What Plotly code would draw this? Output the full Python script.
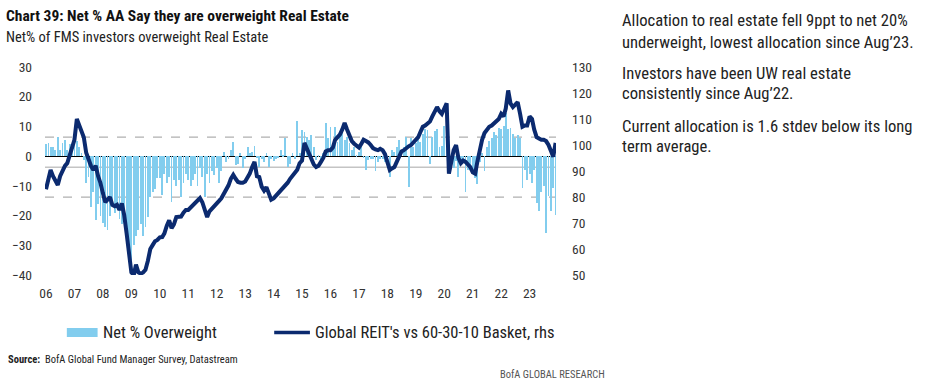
import pandas as pd
import plotly.graph_objects as go

# ---------------- data ----------------
months = pd.date_range("2006-01-01", "2023-12-01", freq="MS")

net_ow_2006_2011 = [
    4, 4.4, 3, 3, 2, 6.5, 2, 4.5, 5.5, 2, 4, 3,
    6.8, 5, 3, 1, -1.3, -9, -7, -17, -12, -21.5, -16, -20,
    -22.6, -24, -25, -20, -16, -19, -17, -21, -23, -21, -26, -31,
    -35, -30, -27, -25, -23, -27, -24, -20.5, -13.8, -12, -11, -7.5,
    -7.5, -13, -6, -9, -7, -15.4, -8, -10, -8, -13.8, -9, -6,
    -8, -10, -8, -6, -10, -4, -7, -13.8, -6, -9, -5, -6.5,
]
net_ow_2012_2017 = [
    -4, -9, -5, 1.4, -2, -1, 2, 4.8, -3, -2.5, 1, -4,
    -1, 3, 1, 1.5, 3.4, -0.5, -3.6, -1, -2, 1, -3.6, -1,
    -1.5, -1, -0.5, 2, 0.5, 6, -3.6, -2.5, 1, -1, 11.8, 1,
    8.7, 8, 6.5, 5.5, 7, 3, -1.3, 0.5, -1.3, 1, 11, 6,
    9.8, 3, 9.8, 4.8, 8, 8, 5.4, 6.4, 4.4, 2, 3, 0.5,
    1.5, 3.5, -0.5, -4.7, -1.3, -0.8, -1, -5, -2, -1, -1, -2,
]
net_ow_2018_2023 = [
    -1, -7, 2, 1.5, 3, 5.4, 2, 3, 6.4, -10.4, 6, 3,
    4.5, 6.4, 4.8, 7.5, 9, 8.7, -2.5, 6.4, 8.5, 9, 3, 3.4,
    10, 3, -4.7, -2, -4, -1.5, -7, -3, -1, -12, -4.5, -3,
    -6, -7.5, -9.4, -2, 1, -5, 3, 5, 6, 8, 7, 9.4,
    9, 10, 14.4, 9, 9.5, 7.5, 6, 7, 6, -10.7, -4.5, -8,
    -6, -9, -4.5, -15.8, -18.6, -12, -10, -26, -13.5, -18.6, -10.7, -19.9,
]
net_ow = net_ow_2006_2011 + net_ow_2012_2017 + net_ow_2018_2023

reit_rel_2006_2011 = [
    83, 87, 90.4, 88, 86, 84.6, 88, 90, 92, 93, 96, 99,
    102, 110, 108, 106, 103, 97, 94, 92, 90.4, 92, 88, 85.4,
    81.5, 78, 79, 80, 77, 76.5, 77, 75, 77.5, 73, 66, 58,
    51, 50, 54, 51, 50.5, 51, 52, 55.5, 60, 61.5, 63, 63.5,
    64.5, 64.6, 66, 69, 71, 68, 69.5, 72.3, 72.5, 72.5, 74, 75,
    75, 76, 77, 77.7, 78.5, 79.6, 78, 75, 72.3, 74.5, 75.5, 76,
]
reit_rel_2012_2017 = [
    77, 78.5, 79.5, 81, 82.5, 84.5, 87, 88.5, 87, 85.8, 85.5, 85.5,
    86, 87.5, 89, 91.5, 93.5, 88, 87.7, 84, 82.5, 83.8, 81, 79,
    79.5, 80.5, 81.5, 82.5, 83, 84, 85.5, 87, 88, 89.5, 90.5, 93,
    94, 100.8, 98.8, 96, 94, 92.5, 91.5, 92, 93.5, 95, 97.5, 98,
    98, 99, 102, 103, 104, 106, 108.5, 106, 104, 101.5, 100.5, 99.5,
    99, 100.5, 102, 101.5, 101, 100, 98.8, 98.3, 98, 98.5, 98, 96.5,
]
reit_rel_2018_2023 = [
    93, 90.4, 91, 91.5, 93.5, 96, 97.5, 98, 99, 99.5, 100, 101,
    102, 103, 105, 107, 107.5, 108.5, 109, 111, 113, 114.6, 113, 112,
    114, 116, 89, 93, 98, 100, 95, 93, 94, 93.5, 92.5, 91.5,
    89.5, 89, 93.5, 98.5, 102, 104.6, 106, 107, 107.5, 108.5, 109, 110,
    112, 111, 114, 121, 116, 114.6, 115.5, 116.5, 112, 107, 107.5, 107.5,
    111, 110, 106, 103, 102.5, 102, 102, 101.5, 100, 97.5, 95.5, 100.8,
]
reit_rel = reit_rel_2006_2011 + reit_rel_2012_2017 + reit_rel_2018_2023

year_ticks = pd.date_range("2006-01-01", "2023-01-01", freq="YS")
year_labels = [f"{d.year % 100:02d}" for d in year_ticks]

long_term_avg = -3.7
stdev = 10.1

left_ticks = [30, 20, 10, 0, -10, -20, -30, -40]
right_ticks = [130, 120, 110, 100, 90, 80, 70, 60, 50]

title = "Chart 39: Net % AA Say they are overweight Real Estate"
subtitle = "Net% of FMS investors overweight Real Estate"
legend_bar = "Net % Overweight"
legend_line = "Global REIT's vs 60-30-10 Basket, rhs"
source = "BofA Global Fund Manager Survey, Datastream"
brand = "BofA GLOBAL RESEARCH"
side_text = [
    "Allocation to real estate fell 9ppt to net 20%",
    "underweight, lowest allocation since Aug\u201923.",
    "Investors have been UW real estate",
    "consistently since Aug\u201922.",
    "Current allocation is 1.6 stdev below its long",
    "term average.",
]

# ---------------- styling ----------------
BAR_C = "#82cdee"
LINE_C = "#0b2a6f"
FONT = "Liberation Sans Narrow, Roboto Condensed, Arial Narrow, Liberation Sans, sans-serif"
TXT = "#222222"

W, H = 929, 381
L, R, T, B = 41, 556, 67, 275


def px(x):
    return (x - L) / (R - L)


def py(y):
    return (B - y) / (B - T)


fig = go.Figure()
fig.add_trace(go.Bar(
    x=months, y=net_ow, marker=dict(color=BAR_C, line=dict(width=0)),
    width=11 * 24 * 3600 * 1000, name=legend_bar, showlegend=False,
))
fig.add_trace(go.Scatter(
    x=months, y=reit_rel, yaxis="y2", mode="lines",
    line=dict(color=LINE_C, width=4), name=legend_line, showlegend=False,
))

shapes = [
    dict(type="line", xref="paper", x0=0, x1=1, yref="y", y0=long_term_avg, y1=long_term_avg,
         line=dict(color="#c4c4c4", width=1.5), layer="below"),
    dict(type="line", xref="paper", x0=0, x1=1, yref="y", y0=long_term_avg + stdev, y1=long_term_avg + stdev,
         line=dict(color="#b0b0b0", width=1.2, dash="dash"), layer="below"),
    dict(type="line", xref="paper", x0=0, x1=1, yref="y", y0=long_term_avg - stdev, y1=long_term_avg - stdev,
         line=dict(color="#b0b0b0", width=1.2, dash="dash"), layer="below"),
    # legend symbols
    dict(type="rect", xref="paper", yref="paper", x0=px(63), x1=px(94), y0=py(337), y1=py(328),
         fillcolor=BAR_C, line=dict(width=0)),
    dict(type="line", xref="paper", yref="paper", x0=px(272), x1=px(308), y0=py(332.5), y1=py(332.5),
         line=dict(color=LINE_C, width=3.5)),
]

ann = []


def add_text(text, x, y, size, bold=False, color=TXT, xanchor="left", family=FONT):
    ann.append(dict(text=f"<b>{text}</b>" if bold else text, xref="paper", yref="paper",
                    x=px(x), y=py(y), xanchor=xanchor, yanchor="middle", showarrow=False,
                    font=dict(family=family, size=size, color=color)))


add_text(title, 0, 16, 15.5, bold=True, color="#111111")
add_text(subtitle, 0, 37, 14.5)
add_text(legend_bar, 97, 332.5, 16.5)
add_text(legend_line, 311, 332.5, 16.5)
add_text("<b>Source:</b>  " + source, 2, 359, 10.5)
add_text(brand, 607, 374, 10.5, xanchor="right", color="#555555")
for txt, yy in zip(side_text, [21, 42, 73, 93, 126, 146]):
    add_text(txt, 621, yy, 16.6)

fig.update_layout(
    width=W, height=H,
    margin=dict(l=L, r=W - R, t=T, b=H - B, pad=0),
    paper_bgcolor="white", plot_bgcolor="white",
    bargap=0, showlegend=False,
    font=dict(family=FONT, size=13, color="#333333"),
    xaxis=dict(type="date", range=["2005-12-19", "2023-12-06"], tickvals=year_ticks, ticktext=year_labels,
               showgrid=False, zeroline=False, showline=False, ticks="", ticklabelstandoff=8,
               tickfont=dict(size=13.5, color="#333333")),
    yaxis=dict(range=[-40, 30], tickvals=left_ticks, showgrid=False, zeroline=True,
               zerolinecolor="#000000", zerolinewidth=1.3, showline=False, ticks="",
               ticklabelstandoff=12, tickfont=dict(size=13.5, color="#333333")),
    yaxis2=dict(range=[50, 130], tickvals=right_ticks, overlaying="y", side="right", showgrid=False,
                zeroline=False, showline=False, ticks="", ticklabelstandoff=15,
                tickfont=dict(size=13.5, color="#333333")),
    shapes=shapes, annotations=ann,
)

fig.write_html(
    "out.html",
    config={"displayModeBar": False},
    post_script="document.body.style.margin='0px';document.body.style.padding='0px';"
                "document.body.style.overflow='hidden';",
)
